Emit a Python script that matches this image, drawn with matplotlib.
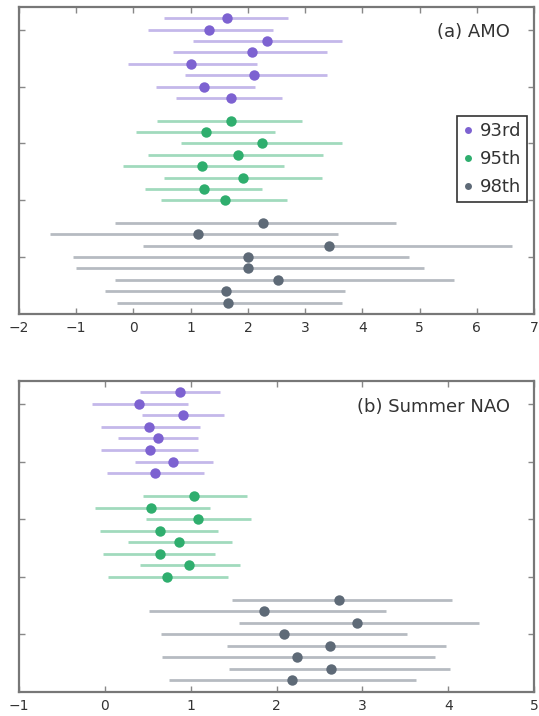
import matplotlib
matplotlib.use("Agg")
import matplotlib.pyplot as plt
from matplotlib.lines import Line2D
from matplotlib.colors import to_rgba

# percentile thresholds, one group of 8 members each
labels = ["93rd", "95th", "98th"]
colors = ["#7d62d1", "#2fae6e", "#5e6a77"]

# (a) AMO: central estimate, lower and upper bound
amo_mid = [
    [1.63, 1.32, 2.33, 2.07, 1.00, 2.10, 1.23, 1.70],
    [1.70, 1.27, 2.24, 1.82, 1.19, 1.92, 1.23, 1.60],
    [2.26, 1.13, 3.42, 2.00, 2.00, 2.53, 1.62, 1.65],
]
amo_lo = [
    [0.54, 0.26, 1.04, 0.69, -0.09, 0.90, 0.39, 0.74],
    [0.41, 0.05, 0.83, 0.25, -0.18, 0.54, 0.20, 0.49],
    [-0.32, -1.46, 0.16, -1.05, -1.00, -0.32, -0.50, -0.29],
]
amo_hi = [
    [2.70, 2.44, 3.64, 3.38, 2.16, 3.38, 2.13, 2.60],
    [2.94, 2.48, 3.64, 3.32, 2.63, 3.29, 2.24, 2.68],
    [4.59, 3.58, 6.61, 4.81, 5.07, 5.60, 3.70, 3.64],
]

# (b) Summer NAO
nao_mid = [
    [0.88, 0.40, 0.91, 0.52, 0.62, 0.53, 0.80, 0.59],
    [1.04, 0.54, 1.09, 0.64, 0.86, 0.64, 0.98, 0.73],
    [2.73, 1.85, 2.94, 2.09, 2.62, 2.24, 2.64, 2.18],
]
nao_lo = [
    [0.41, -0.15, 0.43, -0.04, 0.16, -0.04, 0.35, 0.03],
    [0.45, -0.11, 0.48, -0.06, 0.27, -0.02, 0.41, 0.04],
    [1.48, 0.52, 1.56, 0.66, 1.42, 0.67, 1.45, 0.75],
]
nao_hi = [
    [1.34, 0.97, 1.39, 1.11, 1.09, 1.09, 1.26, 1.16],
    [1.66, 1.22, 1.70, 1.32, 1.48, 1.28, 1.58, 1.44],
    [4.04, 3.27, 4.36, 3.52, 3.97, 3.85, 4.02, 3.63],
]


def draw_panel(ax, mid, lo, hi, xlim, title):
    for g, (m, l, h) in enumerate(zip(mid, lo, hi)):
        y = [g * 9 + i for i in range(len(m))]
        xerr = [[mi - li for mi, li in zip(m, l)], [hi_ - mi for mi, hi_ in zip(m, h)]]
        ax.errorbar(m, y, xerr=xerr, fmt="o", color=colors[g], ecolor=to_rgba(colors[g], 0.45),
                    elinewidth=2, capsize=0, markersize=7.5, markeredgewidth=0)
    ax.set_xlim(*xlim)
    ax.set_xticks(range(xlim[0], xlim[1] + 1))
    ax.set_ylim(26, -1)
    ax.set_yticks([1, 6, 11, 16, 21])
    ax.set_yticklabels([])
    ax.tick_params(direction="in", top=True, right=True, length=4, width=1,
                   color="#888888", labelsize=10, labelcolor="#333333", pad=5)
    for s in ax.spines.values():
        s.set_color("#777777")
        s.set_linewidth(1.6)
    ax.text(0.953, 0.917, title, transform=ax.transAxes, ha="right", va="center",
            fontsize=13, color="#333333")


fig = plt.figure(figsize=(5.39, 7.16), dpi=100)
ax1 = fig.add_axes([0.035, 0.5615, 0.956, 0.4288])
ax2 = fig.add_axes([0.035, 0.0335, 0.956, 0.4346])

draw_panel(ax1, amo_mid, amo_lo, amo_hi, (-2, 7), "(a) AMO")
draw_panel(ax2, nao_mid, nao_lo, nao_hi, (-1, 5), "(b) Summer NAO")

handles = [Line2D([], [], linestyle="none", marker="o", markersize=5, color=c,
                  markeredgewidth=0) for c in colors]
leg = ax1.legend(handles, labels, loc="upper right", bbox_to_anchor=(0.987, 0.645),
                 fontsize=13, fancybox=False, framealpha=1, handlelength=0.5,
                 handletextpad=0.4, borderpad=0.35, labelspacing=0.55, borderaxespad=0)
leg.get_frame().set_edgecolor("#333333")
leg.get_frame().set_linewidth(1.2)
for t in leg.get_texts():
    t.set_color("#333333")

fig.savefig("out.png", dpi=100)
